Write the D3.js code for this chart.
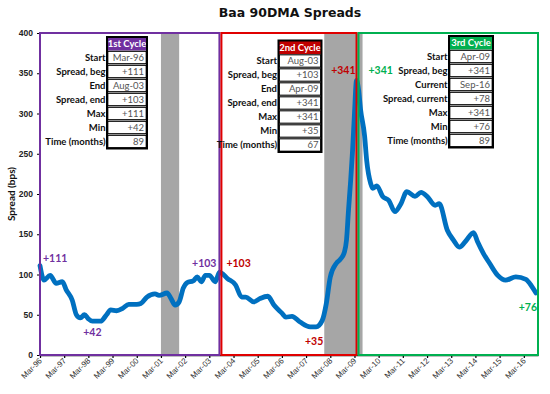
<!DOCTYPE html>
<html>
<head>
<meta charset="utf-8">
<script src="https://cdn.jsdelivr.net/npm/d3@7"></script>
<style>
  body { margin: 0; background: #fff; }
  svg { display: block; font-family: Lato, "Liberation Sans", Arial, sans-serif; }
</style>
</head>
<body>
<svg width="550" height="394"></svg>
<script>
// Baa 90DMA spread in bps
const months = [
  "1996-03","1996-05","1996-08","1996-11","1997-02","1997-04","1997-07","1997-09","1997-11",
  "1998-01","1998-03","1998-05","1998-09","1998-12","1999-02","1999-05","1999-08","1999-11",
  "2000-03","2000-05","2000-08","2000-12","2001-02","2001-06","2001-08","2001-10","2001-12",
  "2002-02","2002-04","2002-07","2002-09","2002-11","2003-01","2003-03","2003-06","2003-08",
  "2003-12","2004-04","2004-07","2004-09","2005-01","2005-04","2005-08","2005-11","2006-03",
  "2006-05","2006-08","2006-12","2007-05","2007-08","2007-11","2008-01","2008-03","2008-06",
  "2008-08","2008-10","2008-11","2008-12","2009-01","2009-02","2009-03","2009-04","2009-05",
  "2009-06","2009-08","2009-09","2009-11","2009-12","2010-02","2010-05","2010-08","2010-11",
  "2011-02","2011-05","2011-09","2011-12","2012-03","2012-07","2012-09","2013-01","2013-04",
  "2013-07","2013-10","2014-02","2014-04","2014-07","2014-10","2015-02","2015-06","2015-11",
  "2016-04","2016-07","2016-09"
];
const spreads = [
  111, 93, 99, 89, 91, 81, 68, 50, 46,
  50, 45, 42, 42, 50, 56, 55, 58, 63,
  63, 64, 72, 76, 74, 77, 70, 62, 66,
  83, 90, 92, 97, 91, 99, 99, 91, 103,
  95, 87, 72, 72, 66, 70, 73, 62, 52,
  47, 48, 41, 35, 35, 43, 64, 97, 114,
  119, 128, 143, 180, 215, 255, 300, 341, 330,
  305, 272, 242, 213, 207, 210, 197, 192, 178,
  188, 203, 197, 202, 197, 186, 188, 155, 143,
  134, 141, 152, 141, 126, 114, 99, 93, 97,
  94, 85, 77
];

const recessions = [["2001-03", "2001-11"], ["2007-12", "2009-06"]];

const cycleStart = ["1996-03", "2003-08", "2009-04"];
const cycleEnd = ["2003-08", "2009-04", "2016-10"];
const cycleNames = ["1st Cycle", "2nd Cycle", "3rd Cycle"];
const cycleRowLabels = [
  ["Start", "Spread, beg", "End", "Spread, end", "Max", "Min", "Time (months)"],
  ["Start", "Spread, beg", "End", "Spread, end", "Max", "Min", "Time (months)"],
  ["Start", "Spread, beg", "Current", "Spread, current", "Max", "Min", "Time (months)"]
];
const cycleRowValues = [
  ["Mar-96", "+111", "Aug-03", "+103", "+111", "+42", "89"],
  ["Aug-03", "+103", "Apr-09", "+341", "+341", "+35", "67"],
  ["Apr-09", "+341", "Sep-16", "+78", "+341", "+76", "89"]
];

const yTicks = [0, 50, 100, 150, 200, 250, 300, 350, 400];
const xTickMonths = d3.range(1996, 2017).map(y => y + "-03");

// callouts: anchor month, anchor value, text
const calloutMonths = ["1996-03", "1998-05", "2003-08", "2003-08", "2007-06", "2009-04", "2009-04", "2016-09"];
const calloutValues = [111, 42, 103, 103, 35, 341, 341, 76];
const calloutTexts = ["+111", "+42", "+103", "+103", "+35", "+341", "+341", "+76"];

const purple = "#7030A0", red = "#E00000", darkRed = "#C00000", green = "#00B050";
const cycleColors = [purple, red, green];
const cycleFills = [purple, darkRed, green];
const calloutColors = [purple, purple, purple, darkRed, darkRed, darkRed, green, green];
// offsets of the callout text from its anchor point
const calloutDx = [3, 0, -3, 7, 2, -1, 12, 1];
const calloutDy = [-4, 15, -5, -5, 18, -6, -6, 17];
const calloutAnchor = ["start", "middle", "end", "start", "middle", "end", "start", "end"];

const parse = d3.timeParse("%Y-%m");
const data = months.map((m, i) => ({date: parse(m), value: spreads[i]}));

const svg = d3.select("svg");
const margin = {top: 33, right: 12, bottom: 39, left: 40};
const width = 550, height = 394;

const x = d3.scaleTime()
  .domain([parse("1996-03"), parse("2016-10")])
  .range([margin.left, width - margin.right]);
const y = d3.scaleLinear()
  .domain([0, 400])
  .range([height - margin.bottom, margin.top]);

// title
svg.append("text")
  .attr("x", 290).attr("y", 17)
  .attr("text-anchor", "middle")
  .style("font-family", "'DejaVu Sans', Verdana, sans-serif")
  .style("font-weight", "bold")
  .style("font-size", "12.5px")
  .attr("fill", "#111")
  .text("Baa 90DMA Spreads");

// recession bands
svg.append("g").selectAll("rect")
  .data(recessions)
  .join("rect")
  .attr("x", d => x(parse(d[0])))
  .attr("y", y(400))
  .attr("width", d => x(d3.timeMonth.offset(parse(d[1]), 1)) - x(parse(d[0])))
  .attr("height", y(0) - y(400))
  .attr("fill", "#a6a6a6");

// axes
const xAxis = svg.append("g")
  .attr("transform", `translate(0,${y(0)})`)
  .call(d3.axisBottom(x)
    .tickValues(xTickMonths.map(parse))
    .tickFormat(d3.timeFormat("%b-%y"))
    .tickSize(3)
    .tickSizeOuter(0));
xAxis.select(".domain").attr("stroke", "#000").attr("stroke-width", 1.5);
xAxis.selectAll(".tick line").attr("stroke", "#000").attr("stroke-width", 1.2);
xAxis.selectAll(".tick text")
  .attr("text-anchor", "end")
  .attr("transform", "translate(-1,1) rotate(-45)")
  .attr("dy", "0.35em")
  .attr("dx", "-0.2em")
  .attr("y", 3)
  .style("font-size", "8px")
  .attr("fill", "#333");

const yAxis = svg.append("g")
  .attr("transform", `translate(${margin.left},0)`)
  .call(d3.axisLeft(y).tickValues(yTicks).tickSize(3).tickSizeOuter(0));
yAxis.select(".domain").attr("stroke", "#000");
yAxis.selectAll(".tick text")
  .style("font-size", "8.5px")
  .style("font-weight", "bold")
  .attr("fill", "#222")
  .attr("x", -7);

svg.append("text")
  .attr("transform", `translate(15,${(y(0) + y(400)) / 2}) rotate(-90)`)
  .attr("text-anchor", "middle")
  .style("font-size", "10px")
  .style("font-weight", "bold")
  .attr("fill", "#111")
  .text("Spread (bps)");

// spread line
const line = d3.line()
  .x(d => x(d.date))
  .y(d => y(d.value))
  .curve(d3.curveMonotoneX);

svg.append("path")
  .datum(data)
  .attr("d", line)
  .attr("fill", "none")
  .attr("stroke", "#0070C0")
  .attr("stroke-width", 4.8)
  .attr("stroke-linejoin", "round")
  .attr("stroke-linecap", "round");

// cycle boxes
svg.append("g").selectAll("rect")
  .data(cycleStart)
  .join("rect")
  .attr("x", (d, i) => x(parse(d)) + (i > 0 ? 2 : 0))
  .attr("y", y(400))
  .attr("width", (d, i) => x(parse(cycleEnd[i])) - x(parse(d)) - (i > 0 ? 2 : 0))
  .attr("height", y(0) - y(400))
  .attr("fill", "none")
  .attr("stroke", (d, i) => cycleColors[i])
  .attr("stroke-width", 2);

// cycle tables
const tableX = [107, 278.5, 449];
const tableY = [37, 40.5, 36];
const tableW = [40, 43, 44];
const headH = 13.5, rowH = 14;

cycleNames.forEach((name, i) => {
  const g = svg.append("g")
    .attr("transform", `translate(${tableX[i]},${tableY[i]})`);
  const w = tableW[i];
  g.append("rect")
    .attr("width", w).attr("height", headH)
    .attr("fill", cycleFills[i]);
  g.append("text")
    .attr("x", w / 2).attr("y", headH / 2 + 3.3)
    .attr("text-anchor", "middle")
    .style("font-size", "9.5px").style("font-weight", "bold")
    .attr("fill", "#fff")
    .text(name);
  const rows = g.selectAll("g.row")
    .data(cycleRowValues[i])
    .join("g")
    .attr("class", "row")
    .attr("transform", (d, j) => `translate(0,${headH + j * rowH})`);
  rows.append("rect")
    .attr("x", 0.8).attr("y", 0.8)
    .attr("width", w - 1.6).attr("height", rowH - 1.6)
    .attr("fill", "#fff")
    .attr("stroke", "#000").attr("stroke-width", 1.1);
  rows.append("text")
    .attr("x", w - 3).attr("y", rowH / 2 + 3.4)
    .attr("text-anchor", "end")
    .style("font-size", "9.5px")
    .attr("fill", "#555")
    .text(d => d);
  rows.append("text")
    .attr("x", -1.5).attr("y", rowH / 2 + 3.4)
    .attr("text-anchor", "end")
    .style("font-size", "9.5px").style("font-weight", "bold")
    .attr("fill", "#111")
    .text((d, j) => cycleRowLabels[i][j]);
  g.append("rect")
    .attr("width", w).attr("height", headH + rowH * cycleRowValues[i].length)
    .attr("fill", "none")
    .attr("stroke", "#000").attr("stroke-width", 2);
});

// callouts
svg.append("g").selectAll("text")
  .data(calloutTexts)
  .join("text")
  .attr("x", (d, i) => x(parse(calloutMonths[i])) + calloutDx[i])
  .attr("y", (d, i) => y(calloutValues[i]) + calloutDy[i])
  .attr("text-anchor", (d, i) => calloutAnchor[i])
  .style("font-size", "10.5px").style("font-weight", "bold")
  .attr("fill", (d, i) => calloutColors[i])
  .text(d => d);
</script>
</body>
</html>
